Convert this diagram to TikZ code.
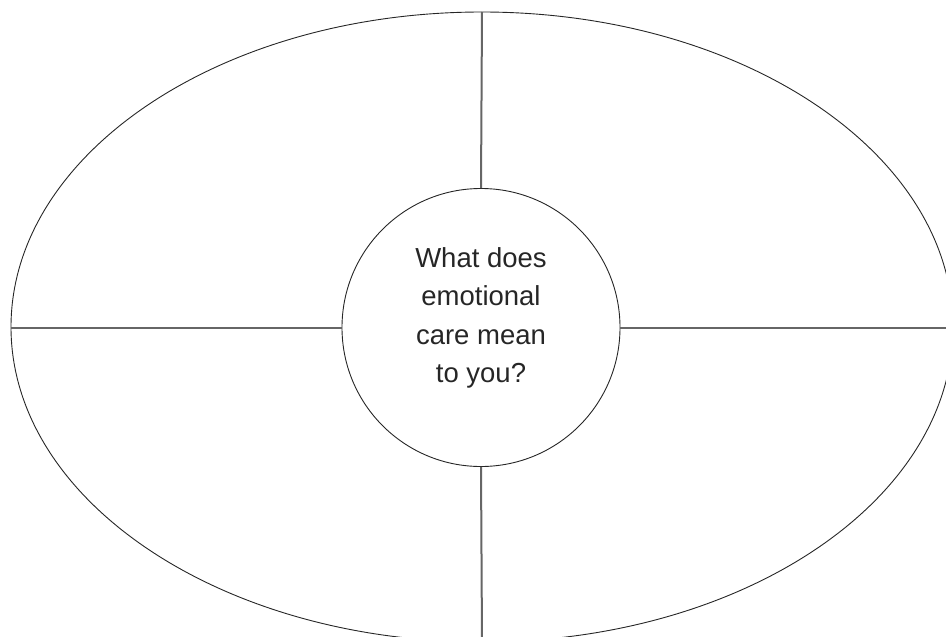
\documentclass[tikz,border=0pt]{standalone}
\usepackage{fontspec}
\setmainfont{Liberation Sans}
\usetikzlibrary{positioning,calc}
\tikzset{
hub/.style={
draw=black!85,
circle,
line width=0.9pt,
minimum size=278pt,
inner sep=0pt
},
question/.style={
align=center,
inner sep=0pt,
text=black!85,
font=\fontsize{27.5}{38.3}\selectfont
},
spoke/.style={
draw=black!60,
line width=2pt
},
rim/.style={
draw=black!85,
line width=0.9pt
}
}

\begin{document}
\begin{tikzpicture}[x=1pt,y=-1pt]
\useasboundingbox (0,0) rectangle (946,637);
\clip (0,0) rectangle (946,637);

\draw[rim] (482,327) ellipse [x radius=471, y radius=315];

\node[hub](h) at (481,327.5){};
\node[question](q) at (481,318){What does\\emotional\\care mean\\to you?};

\coordinate (top) at (482,12);
\coordinate (bottom) at (482,642);
\coordinate (left) at (11,327.5);
\coordinate (right) at (953,327.5);

\foreach \x/\y in {north/top,south/bottom,west/left,east/right}
\draw[spoke](h.\x)--(\y);
\end{tikzpicture}
\end{document}
